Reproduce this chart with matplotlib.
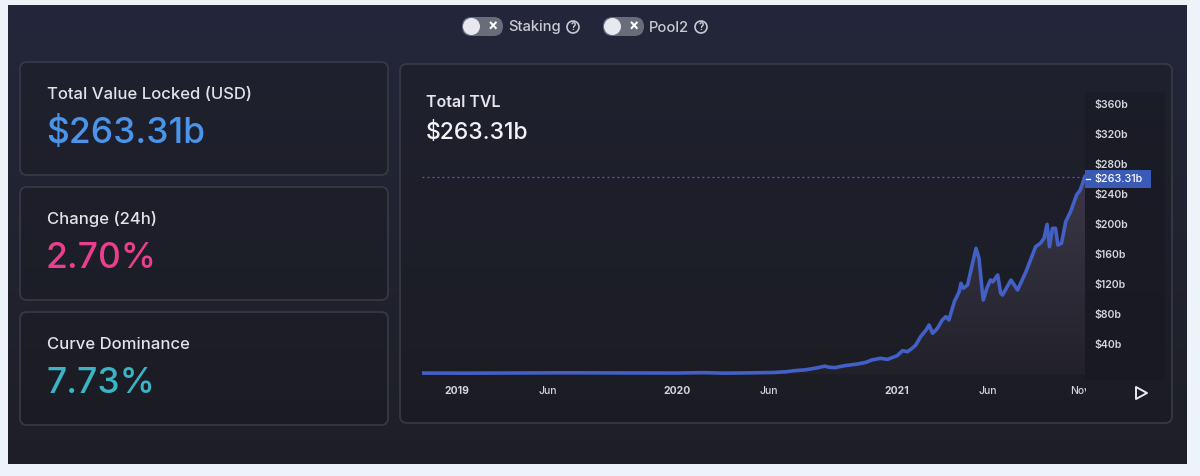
import matplotlib
matplotlib.use("Agg")
import matplotlib.pyplot as plt
import matplotlib.dates as mdates
import numpy as np
import pandas as pd
from matplotlib.patches import FancyBboxPatch, Rectangle, Circle, Polygon
from matplotlib.transforms import Bbox, TransformedBbox

# ---------------- data ----------------
dates = [
    "2018-11-04", "2019-01-15", "2019-04-01", "2019-07-01", "2019-10-01",
    "2020-01-01", "2020-02-15", "2020-03-20", "2020-05-01", "2020-06-10",
    "2020-07-01", "2020-07-15", "2020-08-01", "2020-08-20", "2020-09-03",
    "2020-09-10", "2020-09-20", "2020-10-05", "2020-10-27", "2020-11-10",
    "2020-11-20", "2020-12-04", "2020-12-16", "2021-01-01", "2021-01-10",
    "2021-01-18", "2021-01-26", "2021-02-01", "2021-02-09", "2021-02-18",
    "2021-02-23", "2021-03-01", "2021-03-09", "2021-03-17", "2021-03-23",
    "2021-03-28", "2021-04-06", "2021-04-14", "2021-04-17", "2021-04-21",
    "2021-04-28", "2021-05-05", "2021-05-12", "2021-05-17", "2021-05-21",
    "2021-05-24", "2021-05-30", "2021-06-05", "2021-06-09", "2021-06-17",
    "2021-06-22", "2021-06-25", "2021-07-09", "2021-07-20", "2021-08-03",
    "2021-08-19", "2021-08-27", "2021-09-02", "2021-09-07", "2021-09-11",
    "2021-09-16", "2021-09-21", "2021-09-25", "2021-10-01", "2021-10-08",
    "2021-10-16", "2021-10-22", "2021-10-26", "2021-11-01", "2021-11-06",
    "2021-11-09",
]
tvl_billions = [
    1.2, 1.1, 1.3, 1.6, 1.4,
    1.3, 1.8, 1.1, 1.5, 2.0,
    3.0, 4.5, 5.5, 8.0, 10.5,
    9.0, 8.5, 11.0, 13.3, 15.5,
    18.7, 20.9, 19.5, 24.4, 31.1,
    29.7, 34.3, 38.7, 49.7, 58.7,
    65.3, 54.3, 61.0, 72.0, 76.4,
    72.0, 96.4, 109.7, 120.9, 114.3,
    118.7, 143.1, 167.6, 154.3, 120.9,
    98.7, 114.3, 125.3, 122.9, 132.0,
    107.6, 105.3, 125.3, 112.0, 136.4,
    169.7, 174.3, 180.9, 199.6, 169.7,
    194.3, 194.3, 172.0, 174.3, 203.1,
    216.4, 229.7, 238.7, 245.3, 256.4,
    263.31,
]
x_tick_dates = ["2019-01-01", "2019-06-01", "2020-01-01", "2020-06-01",
                "2021-01-01", "2021-06-01", "2021-11-01"]
x_tick_labels = ["2019", "Jun", "2020", "Jun", "2021", "Jun", "Nov"]
y_ticks = [40, 80, 120, 160, 200, 240, 280, 320, 360]
y_tick_labels = ["$40b", "$80b", "$120b", "$160b", "$200b", "$240b", "$280b", "$320b", "$360b"]

stat_labels = ["Total Value Locked (USD)", "Change (24h)", "Curve Dominance"]
stat_values = ["$263.31b", "2.70%", "7.73%"]
stat_colors = ["#4a94ea", "#ea3f8f", "#3bb4c5"]
toggle_labels = ["Staking", "Pool2"]
chart_title = "Total TVL"
chart_value = "$263.31b"

# ---------------- figure ----------------
W, H = 1200, 476
plt.rcParams['font.family'] = ['Inter', 'DejaVu Sans']
fig = plt.figure(figsize=(12, 4.76), dpi=100, facecolor="#eef3fa")

bg = fig.add_axes([0, 0, 1, 1], zorder=0)
bg.set_axis_off()

# dark panel gradient
top_c = np.array([0x24, 0x27, 0x3b]) / 255
bot_c = np.array([0x1e, 0x1f, 0x26]) / 255
t = np.linspace(0, 1, 200).reshape(-1, 1, 1)
grad_img = top_c * (1 - t) + bot_c * t
bg.imshow(grad_img, extent=(8, 1187, 464, 5), origin="upper", aspect="auto", zorder=0)
bg.set_xlim(0, W)
bg.set_ylim(H, 0)

def rbox(x0, y0, x1, y1, r=7, fc=(0.09, 0.09, 0.11, 0.35), ec="#363945", lw=1.3, z=1):
    p = FancyBboxPatch((x0, y0), x1 - x0, y1 - y0,
                       boxstyle=f"round,pad=0,rounding_size={r}",
                       fc=fc, ec=ec, lw=lw, zorder=z)
    bg.add_patch(p)

# left stat boxes
box_tops = [62, 187, 312]
for i, top in enumerate(box_tops):
    rbox(20, top, 388, top + 113)
    bg.text(47, top + 37, stat_labels[i], color="#e2e2e8", fontsize=12,
            fontweight="medium", ha="left", va="baseline", zorder=3)
    bg.text(46, top + 81, stat_values[i], color=stat_colors[i], fontsize=25.5,
            fontweight="medium", ha="left", va="baseline", zorder=3)

# chart box
rbox(400, 64, 1172, 423)
# y-axis strip
bg.add_patch(Rectangle((1085, 92), 80, 288, fc=(0.06, 0.06, 0.08, 0.22), ec="none", zorder=1.5))
bg.text(426, 107, chart_title, color="#e6e6ec", fontsize=11.5, fontweight="semibold",
        ha="left", va="baseline", zorder=3)
bg.text(426, 139, chart_value, color="#f2f2f6", fontsize=16.5, fontweight="medium",
        ha="left", va="baseline", zorder=3)

# toggles
for x0, lab, qx in [(462, toggle_labels[0], 573), (603, toggle_labels[1], 701)]:
    bg.add_patch(FancyBboxPatch((x0, 17), 41, 19, boxstyle="round,pad=0,rounding_size=9.5",
                                fc="#696c79", ec="none", zorder=2))
    bg.add_patch(Circle((x0 + 9.5, 26.5), 8.5, fc="#e8e8ef", ec="none", zorder=3))
    bg.text(x0 + 30.5, 26.5, "×", color="#ffffff", fontsize=11, fontweight="bold",
            ha="center", va="center", zorder=3)
    bg.text(x0 + 46, 31.5, lab, color="#c9cad2", fontsize=10.6, fontweight="medium",
            ha="left", va="baseline", zorder=3)
    bg.add_patch(Circle((qx, 27), 6, fc="none", ec="#c9cad2", lw=1.2, zorder=3))
    bg.text(qx, 27, "?", color="#c9cad2", fontsize=7, fontweight="bold",
            ha="center", va="center", zorder=3)

# play triangle
bg.add_patch(Polygon([(1136, 387), (1136, 399), (1147, 393)], closed=True,
                     fc="none", ec="#e8e8ee", lw=1.4, joinstyle="round", zorder=3))

# highlight value label
bg.add_patch(Rectangle((1085, 170), 66, 17.5, fc="#3b5ab6", ec="none", zorder=4))
bg.plot([1086, 1090], [178.5, 178.5], color="#ffffff", lw=0.9, zorder=5)
bg.text(1094, 179, chart_value, color="#ffffff", fontsize=7.8, fontweight="medium",
        ha="left", va="center", zorder=5)

# ---------------- chart ----------------
ax_l, ax_r, ax_t, ax_b = 422, 1085, 90, 380
ax = fig.add_axes([ax_l / W, (H - ax_b) / H, (ax_r - ax_l) / W, (ax_b - ax_t) / H], zorder=2)
ax.patch.set_alpha(0)
for s in ax.spines.values():
    s.set_visible(False)

d = pd.to_datetime(dates)
xnum = mdates.date2num(d)
y0v, y1v = -8, 378.67

# gradient fill under curve
verts = [(xnum[0], 0)] + list(zip(xnum, tvl_billions)) + [(xnum[-1], 0)]
poly = Polygon(verts, closed=True, fc="none", ec="none")
ax.add_patch(poly)
n = 256
g = np.linspace(0, 1, n)
rgba = np.zeros((n, 1, 4))
rgba[..., 0] = 0.44
rgba[..., 1] = 0.38
rgba[..., 2] = 0.47
rgba[:, 0, 3] = 0.08 + 0.42 * g
im = ax.imshow(rgba, extent=(xnum[0], xnum[-1], 0, 378), origin="lower", aspect="auto", zorder=1)
im.set_clip_path(poly)

ax.plot(d, tvl_billions, color="#4260c6", lw=2.6, solid_joinstyle="round", zorder=3)
ax.axhline(tvl_billions[-1], color="#4a66cc", lw=0.9, ls=(0, (1.5, 2.5)), zorder=2)

ax.set_xlim(pd.Timestamp("2018-11-04"), pd.Timestamp("2021-11-09"))
ax.set_ylim(y0v, y1v)

ax.set_xticks(pd.to_datetime(x_tick_dates))
ax.set_xticklabels(x_tick_labels)
ax.tick_params(axis="x", length=0, pad=4, labelsize=7.5, labelcolor="#d4d4da")
clipbox = TransformedBbox(Bbox.from_extents(0, 0, 1086 / W, 1), fig.transFigure)
for lab in ax.get_xticklabels():
    if lab.get_text().isdigit():
        lab.set_fontweight("bold")
    else:
        lab.set_fontweight("medium")
    lab.set_clip_box(clipbox)
    lab.set_clip_on(True)

ax.yaxis.tick_right()
ax.set_yticks(y_ticks)
ax.set_yticklabels(y_tick_labels)
ax.tick_params(axis="y", length=0, pad=7, labelsize=7.6, labelcolor="#d4d4da")
for lab in ax.get_yticklabels():
    lab.set_fontweight("semibold")

fig.savefig("out.png", dpi=100, facecolor=fig.get_facecolor())
